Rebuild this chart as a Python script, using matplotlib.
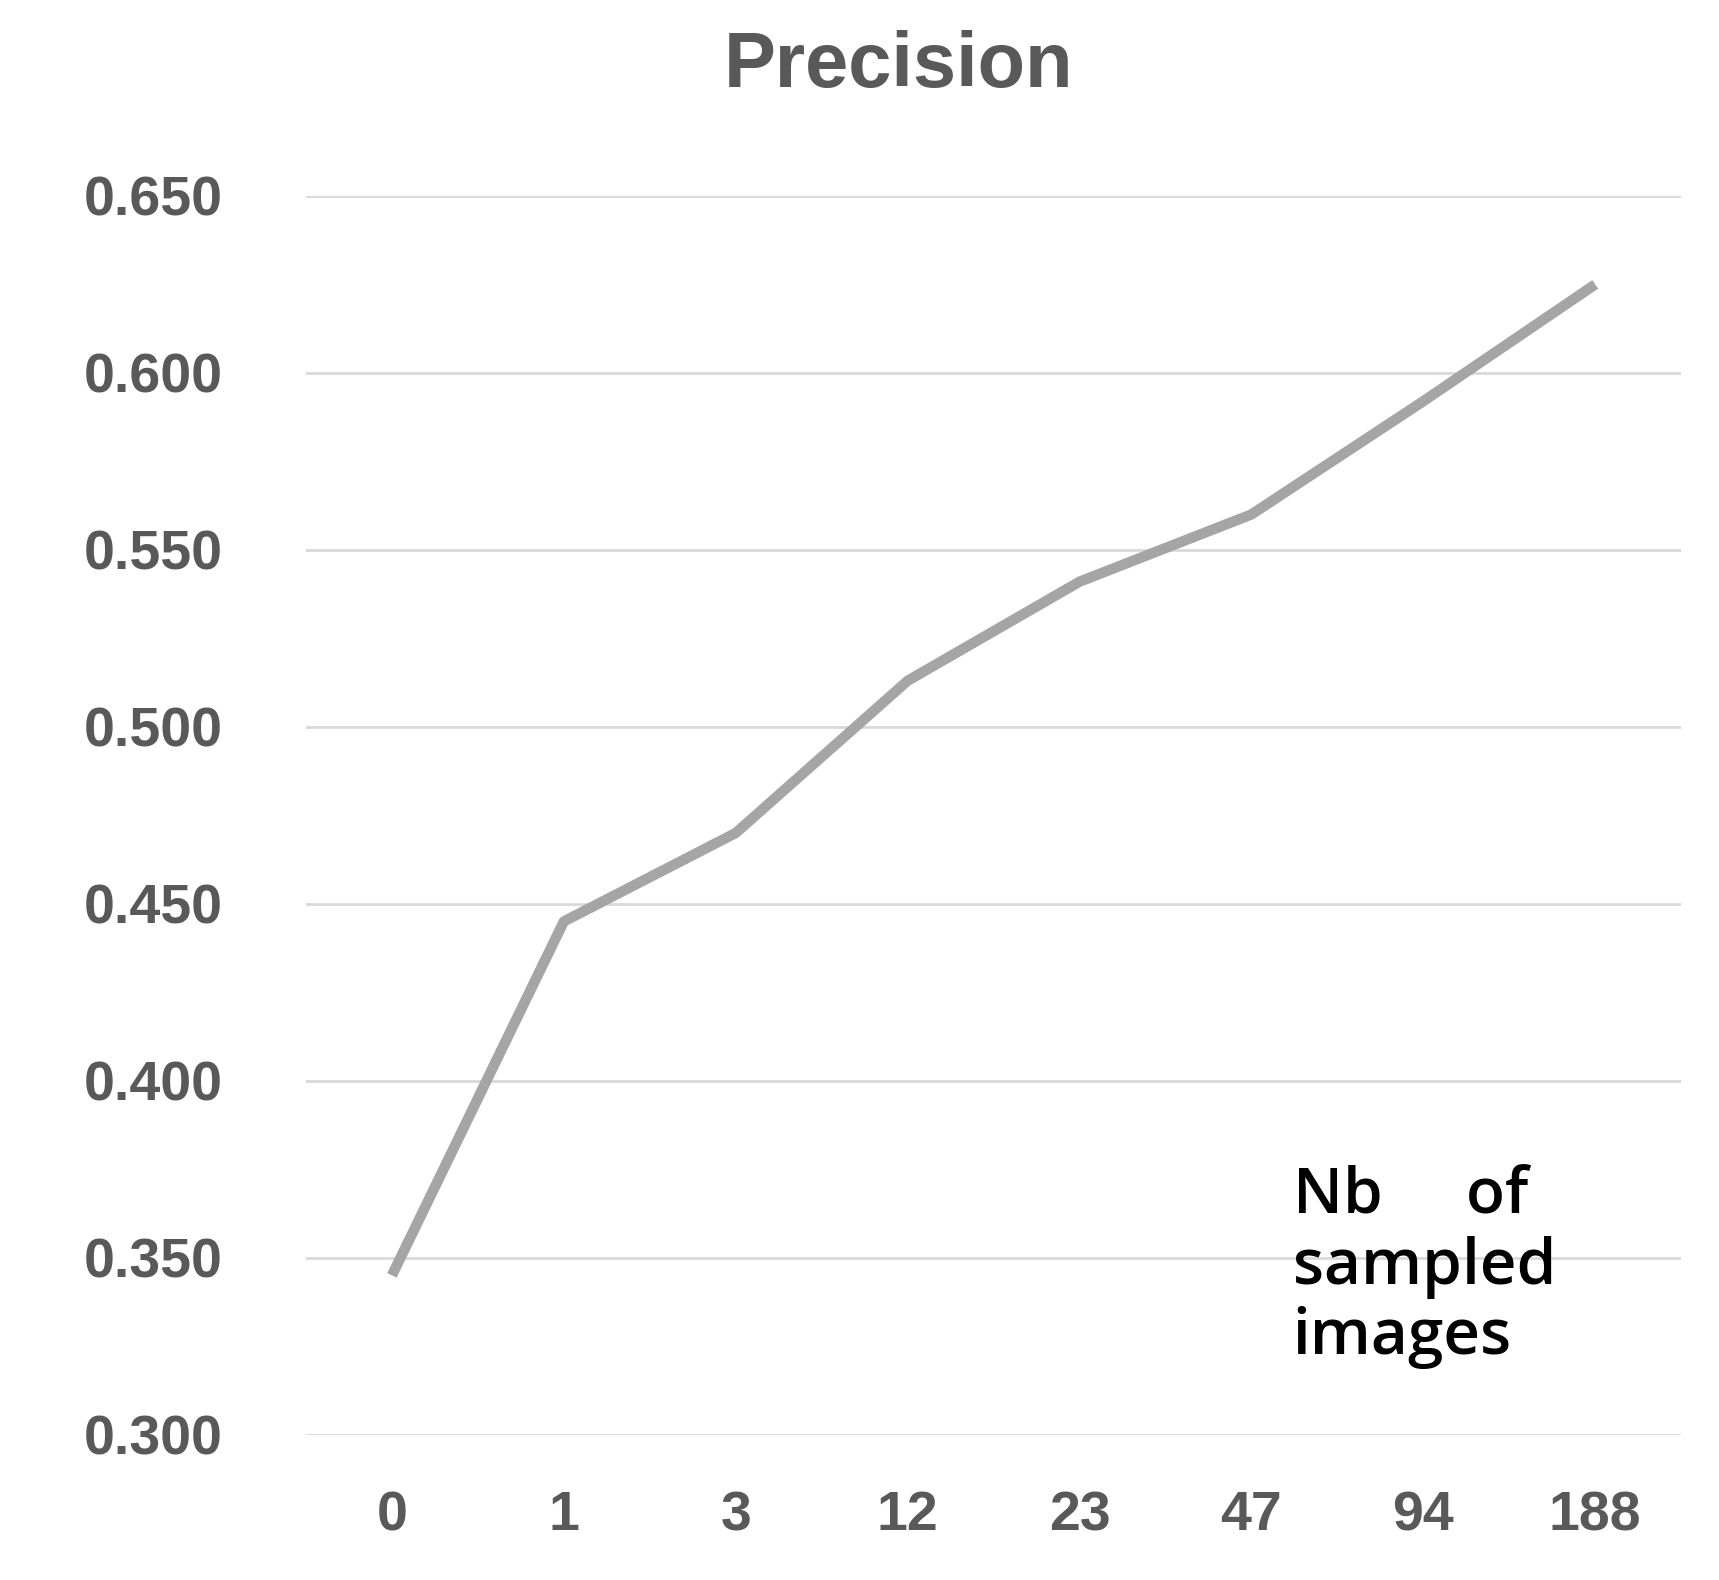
import matplotlib
matplotlib.use("Agg")
import matplotlib.pyplot as plt

categories = ['0', '1', '3', '12', '23', '47', '94', '188']
precision = [0.345, 0.445, 0.470, 0.513, 0.541, 0.560, 0.592, 0.625]
y_ticks = [0.300, 0.350, 0.400, 0.450, 0.500, 0.550, 0.600, 0.650]

plt.rcParams['font.family'] = ['Liberation Sans', 'DejaVu Sans']

fig = plt.figure(figsize=(17.19, 15.8), dpi=100)
ax = fig.add_axes([0.178, 0.092, 0.8, 0.784])

x = list(range(len(categories)))
ax.plot(x, precision, color='#A5A5A5', linewidth=7.5, solid_capstyle='butt', zorder=3)

ax.set_xlim(-0.5, len(categories) - 0.5)
ax.set_ylim(0.300, 0.650)
ax.set_yticks(y_ticks)
ax.set_yticklabels([f'{v:.3f}' for v in y_ticks])
ax.set_xticks(x)
ax.set_xticklabels(categories)
ax.grid(axis='y', color='#D9D9D9', linewidth=2)
ax.set_axisbelow(True)
for s in ax.spines.values():
    s.set_visible(False)
ax.tick_params(length=0, labelsize=40, labelcolor='#595959')
ax.tick_params(axis='x', pad=40)
ax.tick_params(axis='y', pad=60)
for lab in ax.get_xticklabels() + ax.get_yticklabels():
    lab.set_fontweight('bold')

fig.text(0.523, 0.958, 'Precision', ha='center', va='center', fontsize=56,
         fontweight='bold', color='#595959')
ax.text(5.24, 0.376, 'Nb     of\nsampled\nimages', ha='left', va='top', fontsize=46,
        color='black', linespacing=1.15, family=['Open Sans', 'DejaVu Sans'], fontweight='semibold')

fig.savefig('out.png', dpi=100)
